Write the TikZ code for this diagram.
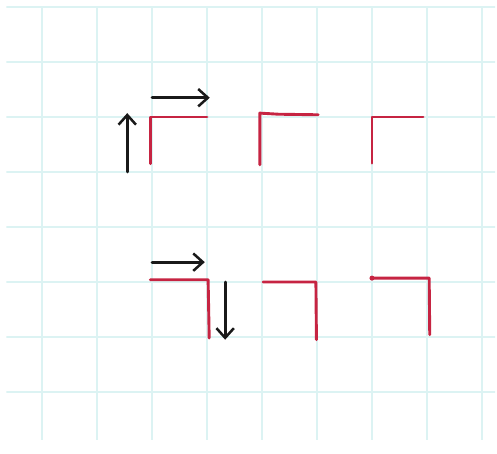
\documentclass[tikz,border=0pt]{standalone}
\usetikzlibrary{arrows.meta}
\definecolor{gridcyan}{RGB}{220,243,243}
\definecolor{penred}{RGB}{198,36,66}
\definecolor{penblack}{RGB}{25,25,25}
\begin{document}
\begin{tikzpicture}[
    gridline/.style={gridcyan, line width=1.1pt},
    redpen/.style={penred, line width=1.5pt, line cap=round, line join=round},
    blackpen/.style={penblack, line width=1.4pt, line cap=round,
        -{Straight Barb[length=5pt,width=9pt,line width=1.3pt]}}
]
    \useasboundingbox (-2.764,-6.127) rectangle (6.273,2.127);

    % Squared paper
    \begin{scope}
        \clip (-2.65,-5.87) rectangle (6.24,2.0);
        \foreach \x in {-2,...,6} {
            \draw[gridline] (\x,-6) -- (\x,2.1);
        }
        \foreach \y in {-6,...,2} {
            \draw[gridline] (-2.7,\y) -- (6.3,\y);
        }
        \draw[gridline] (-2.7,-5.9) -- (6.3,-5.9);
    \end{scope}

    % Top row: corner pieces opening down-right
    \draw[redpen] (-0.03,-0.85) -- (-0.03,0) -- (1.0,0);
    \draw[redpen] (1.96,-0.87) -- (1.96,0.07) -- (2.3,0.05) -- (3.02,0.04);
    \draw[redpen] (4.0,-0.84) -- (4.0,0) -- (4.93,0);

    % Top row: arrows
    \coordinate (upS) at (-0.45,-1.0);
    \coordinate (upE) at (-0.45,0.07);
    \coordinate (rtS) at (0.0,0.35);
    \coordinate (rtE) at (1.05,0.35);
    \draw[blackpen] (upS) -- (upE);
    \draw[blackpen] (rtS) -- (rtE);

    % Bottom row: corner pieces opening down-left
    \draw[redpen] (-0.03,-2.96) -- (1.02,-2.96) -- (1.04,-4.02);
    \draw[redpen] (2.02,-3.0) -- (2.98,-3.0) -- (2.99,-4.05);
    \draw[redpen] (4.0,-2.93) -- (5.04,-2.93) -- (5.05,-3.96);
    \fill[penred] (4.0,-2.93) circle (1.3pt);

    % Bottom row: arrows
    \coordinate (btS) at (0.0,-2.64);
    \coordinate (btE) at (0.96,-2.64);
    \coordinate (dnS) at (1.33,-3.0);
    \coordinate (dnE) at (1.33,-4.05);
    \draw[blackpen] (btS) -- (btE);
    \draw[blackpen] (dnS) -- (dnE);
\end{tikzpicture}
\end{document}
